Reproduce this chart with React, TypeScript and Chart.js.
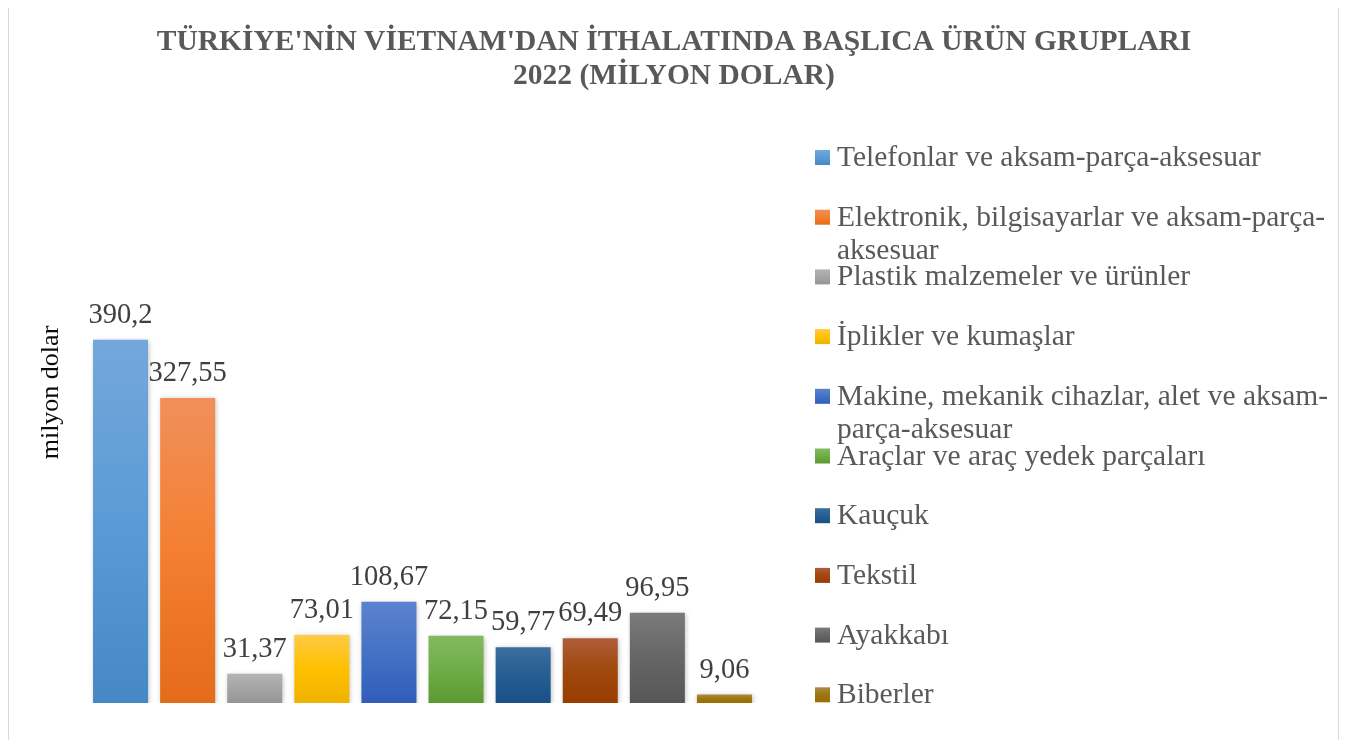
import { useEffect, useRef } from "react";
import { Chart, registerables } from "chart.js";

Chart.register(...registerables);

const titleLines = [
  "TÜRKİYE'NİN VİETNAM'DAN İTHALATINDA BAŞLICA ÜRÜN GRUPLARI",
  "2022 (MİLYON DOLAR)",
];
const yAxisTitle = "milyon dolar";

const categories = [
  "Telefonlar ve aksam-parça-aksesuar",
  "Elektronik, bilgisayarlar ve aksam-parça-aksesuar",
  "Plastik malzemeler ve ürünler",
  "İplikler ve kumaşlar",
  "Makine, mekanik cihazlar, alet ve aksam-parça-aksesuar",
  "Araçlar ve araç yedek parçaları",
  "Kauçuk",
  "Tekstil",
  "Ayakkabı",
  "Biberler",
];

const legendLabels: string[][] = [
  ["Telefonlar ve aksam-parça-aksesuar"],
  ["Elektronik, bilgisayarlar ve aksam-parça-", "aksesuar"],
  ["Plastik malzemeler ve ürünler"],
  ["İplikler ve kumaşlar"],
  ["Makine, mekanik cihazlar, alet ve aksam-", "parça-aksesuar"],
  ["Araçlar ve araç yedek parçaları"],
  ["Kauçuk"],
  ["Tekstil"],
  ["Ayakkabı"],
  ["Biberler"],
];

const values = [390.2, 327.55, 31.37, 73.01, 108.67, 72.15, 59.77, 69.49, 96.95, 9.06];

const topColors = ["#74a7db", "#f0905a", "#b3b3b3", "#ffca45", "#5c82cf", "#82ba60", "#3c6e9e", "#af5c39", "#7a7a7a", "#ab8a45"];
const midColors = ["#5b9bd5", "#f47f30", "#a5a5a5", "#ffc000", "#4472c4", "#70ad47", "#255e91", "#a0480e", "#666666", "#9c7510"];
const bottomColors = ["#4588c6", "#e46b1a", "#959595", "#eeb200", "#2f5dba", "#5a9a33", "#1a4f88", "#9a3c00", "#565656", "#987000"];

const FONT = '"Liberation Serif", "Times New Roman", serif';

export default function App() {
  const ref = useRef<HTMLCanvasElement>(null);

  useEffect(() => {
    const canvas = ref.current!;

    const shadowPlugin = {
      id: "barShadow",
      beforeDatasetDraw(chart: any) {
        const ctx = chart.ctx;
        ctx.save();
        ctx.shadowColor = "rgba(0,0,0,0.28)";
        ctx.shadowBlur = 5;
        ctx.shadowOffsetX = 1;
        ctx.shadowOffsetY = 1;
      },
      afterDatasetDraw(chart: any) {
        chart.ctx.restore();
      },
    };

    const decorPlugin = {
      id: "decor",
      afterDraw(chart: any) {
        const ctx = chart.ctx as CanvasRenderingContext2D;
        ctx.save();
        // title
        ctx.fillStyle = "#595959";
        ctx.font = `bold 29.5px ${FONT}`;
        ctx.textAlign = "center";
        ctx.textBaseline = "alphabetic";
        ctx.fillText(titleLines[0], 665, 46);
        ctx.fillText(titleLines[1], 665, 80);

        // y axis title
        ctx.save();
        ctx.translate(49, 388.5);
        ctx.rotate(-Math.PI / 2);
        ctx.fillStyle = "#0d0d0d";
        ctx.font = `26px ${FONT}`;
        ctx.textAlign = "center";
        ctx.fillText(yAxisTitle, 0, 0);
        ctx.restore();

        // data labels
        const meta = chart.getDatasetMeta(0);
        ctx.font = `28.5px ${FONT}`;
        ctx.fillStyle = "#404040";
        ctx.textAlign = "center";
        meta.data.forEach((bar: any, i: number) => {
          const label = String(values[i]).replace(".", ",");
          ctx.fillText(label, bar.x, bar.y - 17);
        });

        // legend
        ctx.textAlign = "left";
        ctx.font = `29.5px ${FONT}`;
        legendLabels.forEach((lines, i) => {
          const base = 162 + i * 59.7;
          const g = ctx.createLinearGradient(0, base - 16, 0, base - 1);
          g.addColorStop(0, topColors[i]);
          g.addColorStop(0.5, midColors[i]);
          g.addColorStop(1, bottomColors[i]);
          ctx.fillStyle = g;
          ctx.fillRect(806, base - 16, 15, 15);
          ctx.fillStyle = "#595959";
          lines.forEach((t, k) => {
            ctx.fillText(t, 828, base + k * 33);
          });
        });
        ctx.restore();
      },
    };

    const chart = new Chart(canvas, {
      type: "bar",
      data: {
        labels: categories,
        datasets: [
          {
            data: values,
            borderWidth: 0,
            categoryPercentage: 1,
            barPercentage: 0.82,
            backgroundColor: (c: any) => {
              const i = c.dataIndex;
              if (i === undefined) return midColors[0];
              const chartObj = c.chart;
              const area = chartObj.chartArea;
              const ys = chartObj.scales && chartObj.scales.y;
              if (!area || !ys) return midColors[i];
              const top = ys.getPixelForValue(values[i]);
              const bot = ys.getPixelForValue(0);
              const g = chartObj.ctx.createLinearGradient(0, top, 0, bot);
              g.addColorStop(0, topColors[i]);
              g.addColorStop(0.5, midColors[i]);
              g.addColorStop(1, bottomColors[i]);
              return g;
            },
          },
        ],
      },
      options: {
        responsive: false,
        animation: false,
        devicePixelRatio: 1,
        events: [],
        layout: { padding: { left: 78, right: 580, top: 308, bottom: 41 } },
        scales: {
          x: { display: false },
          y: { display: false, min: 0, max: 420 },
        },
        plugins: {
          legend: { display: false },
          tooltip: { enabled: false },
          title: { display: false },
        },
      },
      plugins: [shadowPlugin, decorPlugin],
    });

    return () => chart.destroy();
  }, []);

  return (
    <div
      style={{
        position: "relative",
        top: -5,
        width: 1329,
        height: 740,
        border: "1px solid #d9d9d9",
        background: "#ffffff",
      }}
    >
      <canvas ref={ref} width={1329} height={740} style={{ display: "block", width: 1329, height: 740 }} />
    </div>
  );
}
